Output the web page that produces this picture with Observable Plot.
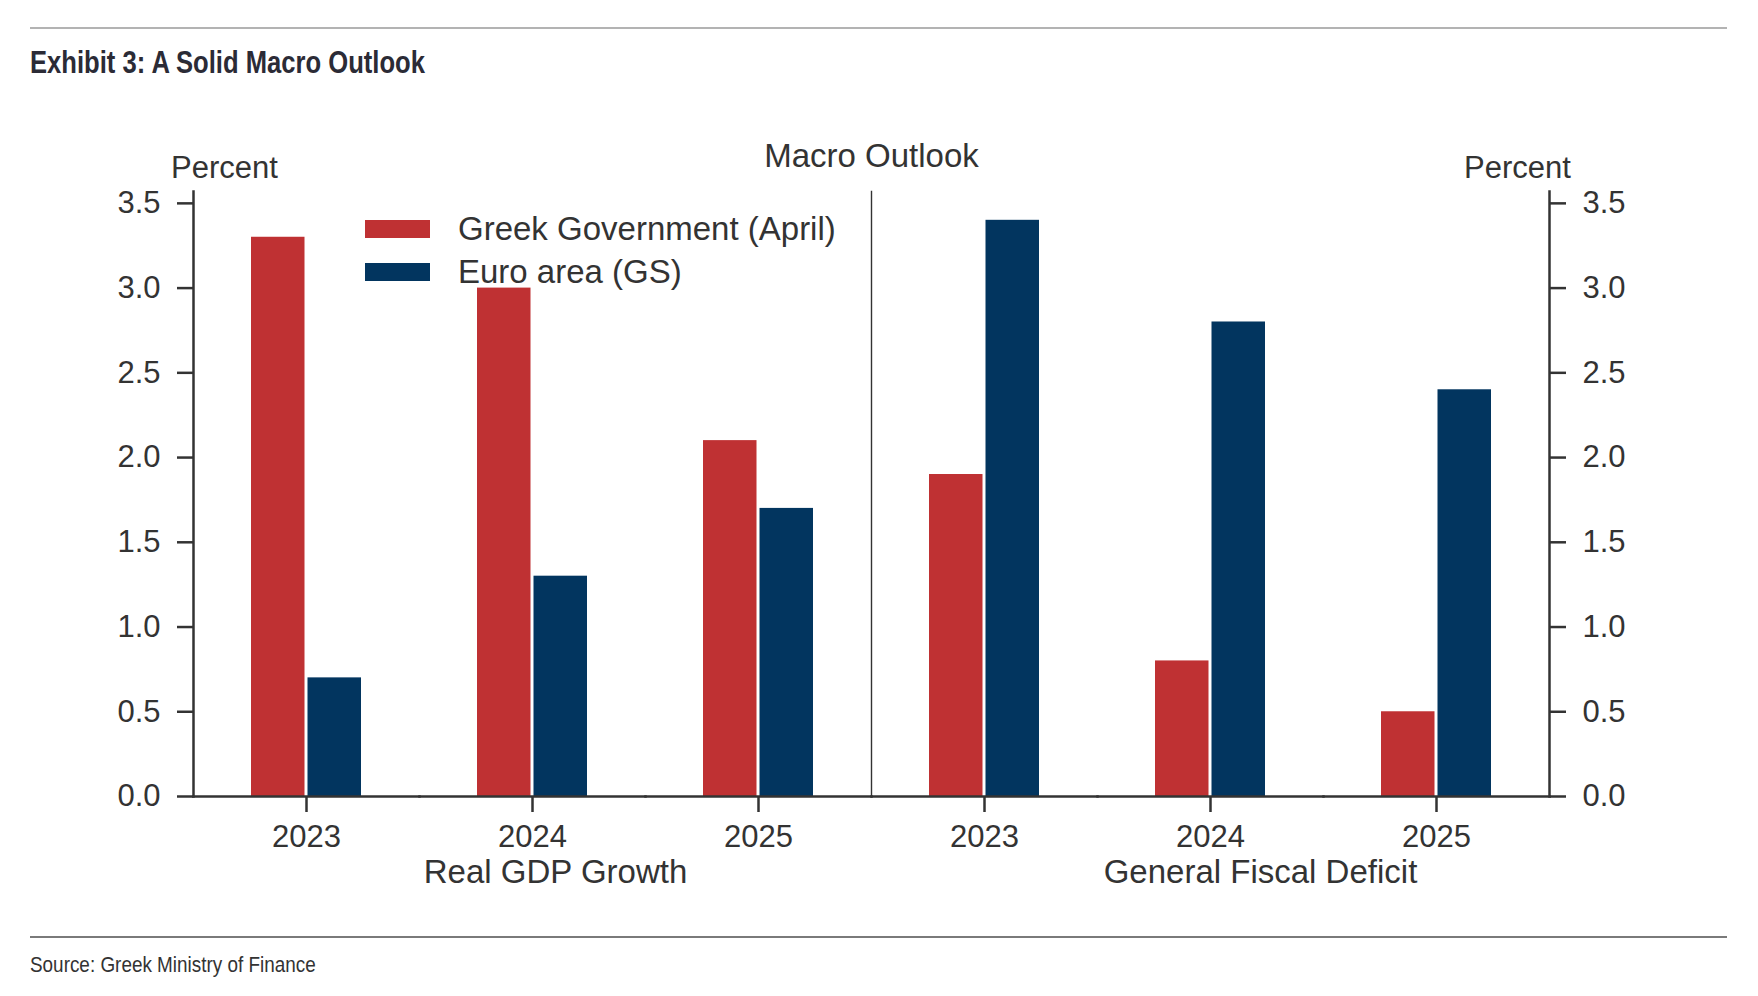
<!DOCTYPE html>
<html>
<head>
<meta charset="utf-8">
<script src="https://cdn.jsdelivr.net/npm/d3@7"></script>
<script src="https://cdn.jsdelivr.net/npm/@observablehq/plot@0.6"></script>
<style>
  html, body { margin: 0; padding: 0; background: #ffffff; }
  #page { position: relative; width: 1758px; height: 996px; overflow: hidden; background: #fff; }
  .hline { position: absolute; left: 30px; width: 1697px; height: 2px; }
  #title { position: absolute; left: 30px; top: 46px; line-height: 32px; font-family: "Liberation Sans", Arial, sans-serif; font-weight: bold; font-size: 32px; color: #2b2b36; white-space: nowrap; transform: scaleX(0.8); transform-origin: 0 0; }
  #chart { position: absolute; left: 0; top: 100px; }
  #legend { position: absolute; left: 365px; top: 207px; font-family: "Liberation Sans", Arial, sans-serif; font-size: 33px; color: #333; }
  .item { display: flex; align-items: center; height: 43px; white-space: nowrap; }
  .sw { width: 65px; height: 18px; margin-right: 28px; flex: none; }
  #source { position: absolute; left: 30px; top: 953px; line-height: 24px; font-family: "Liberation Sans", Arial, sans-serif; font-size: 22.5px; color: #333; white-space: nowrap; transform: scaleX(0.84); transform-origin: 0 0; }
</style>
</head>
<body>
<div id="page">
  <div class="hline" style="top:27px;background:#b3b3b3"></div>
  <div id="title">Exhibit 3: A Solid Macro Outlook</div>
  <div id="chart"></div>
  <div id="legend"></div>
  <div class="hline" style="top:936px;background:#7a7a7a"></div>
  <div id="source">Source: Greek Ministry of Finance</div>
</div>
<script>
// ---- data ----
const groups = ["Real GDP Growth", "General Fiscal Deficit"];
const years = ["2023", "2024", "2025"];
const seriesNames = ["Greek Government (April)", "Euro area (GS)"];
const greekGov = [3.3, 3.0, 2.1, 1.9, 0.8, 0.5];
const euroArea = [0.7, 1.3, 1.7, 3.4, 2.8, 2.4];
const yTicks = [0, 0.5, 1.0, 1.5, 2.0, 2.5, 3.0, 3.5];
const yMax = 3.57;
const seriesColors = ["#bf3133", "#02355f"];
const chartTitle = "Macro Outlook";
const unitLabel = "Percent";

// ---- table ----
const keys = groups.flatMap(g => years.map(y => `${g}|${y}`));
const rows = keys.flatMap((k, i) => [
  {key: k, series: seriesNames[0], value: greekGov[i]},
  {key: k, series: seriesNames[1], value: euroArea[i]}
]);
const FONT = "'Liberation Sans', Arial, Helvetica, sans-serif";
const AX = "#333333";

const groupLabelOffsets = [23, 50];

const chart = Plot.plot({
  width: 1758,
  height: 820,
  marginLeft: 193,
  marginRight: 209,
  marginTop: 91,
  marginBottom: 124,
  style: {fontFamily: FONT, fontSize: "31px", color: AX, background: "transparent"},
  fx: {domain: keys, padding: 0, label: null},
  x: {domain: seriesNames, paddingInner: 0, paddingOuter: 1, round: false, axis: null},
  y: {domain: [0, yMax], label: null},
  color: {domain: seriesNames, range: seriesColors},
  marks: [
    Plot.barY(rows, {fx: "key", x: "series", y: "value", fill: "series", insetLeft: 1.5, insetRight: 1.5}),
    Plot.frame({anchor: "bottom", stroke: AX, strokeWidth: 2.5}),
    Plot.frame({anchor: "left", facetAnchor: "left", stroke: AX, strokeWidth: 2.5}),
    Plot.frame({anchor: "right", facetAnchor: "right", stroke: AX, strokeWidth: 2.5}),
    Plot.frame({anchor: "right", fx: () => keys[years.length - 1], stroke: AX, strokeWidth: 1.4}),
    Plot.axisY({anchor: "left", ticks: yTicks, tickSize: 16, tickPadding: 17, tickFormat: d3.format(".1f"), strokeWidth: 2.5, color: AX, fontSize: 31, label: null}),
    Plot.axisY({anchor: "right", ticks: yTicks, tickSize: 16, tickPadding: 17, tickFormat: d3.format(".1f"), strokeWidth: 2.5, color: AX, fontSize: 31, label: null}),
    Plot.axisFx({anchor: "bottom", tickSize: 16, tickPadding: 12, strokeWidth: 2.5, color: AX, fontSize: 31, tickFormat: k => k.split("|")[1], label: null}),
    Plot.text([unitLabel], {text: d => d, frameAnchor: "top-left", facetAnchor: "left", textAnchor: "middle", lineAnchor: "bottom", dx: 31, dy: -14, fontSize: 31, fill: AX}),
    Plot.text([unitLabel], {text: d => d, frameAnchor: "top-right", facetAnchor: "right", textAnchor: "middle", lineAnchor: "bottom", dx: -32, dy: -14, fontSize: 31, fill: AX}),
    Plot.text([chartTitle], {text: d => d, fx: () => keys[years.length - 1], frameAnchor: "top-right", textAnchor: "middle", lineAnchor: "bottom", dy: -25, fontSize: 33, fill: AX}),
    ...groups.map((g, gi) => Plot.text([g], {text: d => d, fx: d => `${d}|${years[1]}`, frameAnchor: "bottom", textAnchor: "middle", lineAnchor: "bottom", dx: groupLabelOffsets[gi], dy: 86, fontSize: 33, fill: AX}))
  ]
});
document.getElementById("chart").appendChild(chart);

// ---- legend ----
const legend = document.getElementById("legend");
seriesNames.forEach((s, i) => {
  const item = document.createElement("div");
  item.className = "item";
  const sw = document.createElement("span");
  sw.className = "sw";
  sw.style.background = seriesColors[i];
  const tx = document.createElement("span");
  tx.textContent = s;
  item.appendChild(sw);
  item.appendChild(tx);
  legend.appendChild(item);
});
</script>
</body>
</html>
